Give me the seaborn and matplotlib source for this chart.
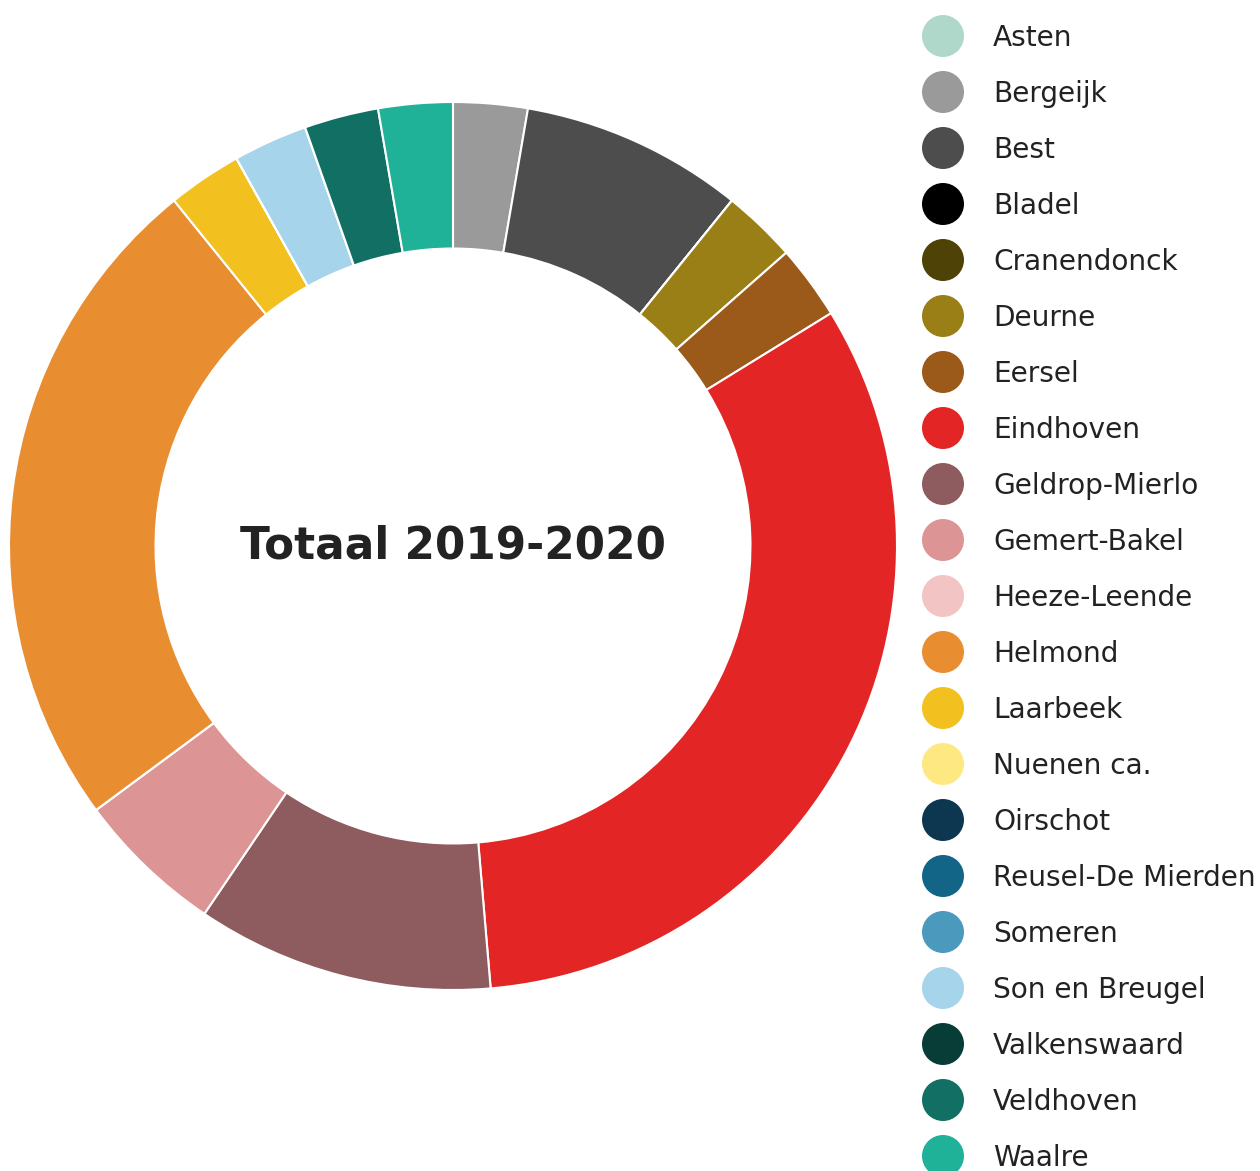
import matplotlib
matplotlib.use("Agg")
import matplotlib.pyplot as plt
import seaborn as sns
import numpy as np

sns.set_theme(style="white")
plt.rcParams['font.family'] = ['DejaVu Sans']

# Data
gemeenten = ["Asten", "Bergeijk", "Best", "Bladel", "Cranendonck", "Deurne", "Eersel",
             "Eindhoven", "Geldrop-Mierlo", "Gemert-Bakel", "Heeze-Leende", "Helmond",
             "Laarbeek", "Nuenen ca.", "Oirschot", "Reusel-De Mierden", "Someren",
             "Son en Breugel", "Valkenswaard", "Veldhoven", "Waalre"]
waarden = [0, 1, 3, 0, 0, 1, 1, 12, 4, 2, 0, 9, 1, 0, 0, 0, 0, 1, 0, 1, 1]
kleuren = ["#afd8cb", "#9a9a9a", "#4d4d4d", "#000000", "#4f4207", "#9a7f16", "#9b5a1a",
           "#e32526", "#8e5b5e", "#dd9494", "#f2c4c3", "#e98d31", "#f2c120", "#fee882",
           "#0d3750", "#136587", "#4b9abd", "#a6d4ea", "#083c36", "#116f63", "#20b199"]
titel = "Totaal 2019-2020"

W, H = 1260, 1171
fig = plt.figure(figsize=(W / 100, H / 100), dpi=100)

# Donut
cx, cy, R = 453, 546, 444
ax = fig.add_axes([(cx - R) / W, (H - cy - R) / H, 2 * R / W, 2 * R / H])
ax.pie(waarden, colors=kleuren, startangle=90, counterclock=False, radius=1,
       wedgeprops=dict(width=0.33, edgecolor="white", linewidth=1.5))
ax.set_xlim(-1, 1)
ax.set_ylim(-1, 1)
ax.set_aspect("equal")
ax.axis("off")
ax.text(0, 0, titel, ha="center", va="center", fontsize=31.5, fontweight="bold", color="#222222")

# Legend
top, step = 36, 56
n = len(gemeenten)
lax = fig.add_axes([0, 0, 1, 1], facecolor="none")
lax.set_xlim(0, W)
lax.set_ylim(H, 0)
lax.axis("off")
ys = [top + i * step for i in range(n)]
lax.scatter([943] * n, ys, s=(42 * 0.72) ** 2, c=kleuren, linewidths=0)
for y, name in zip(ys, gemeenten):
    lax.text(993, y + 2, name, ha="left", va="center", fontsize=20.2, color="#222222")

fig.savefig("out.png", dpi=100)
